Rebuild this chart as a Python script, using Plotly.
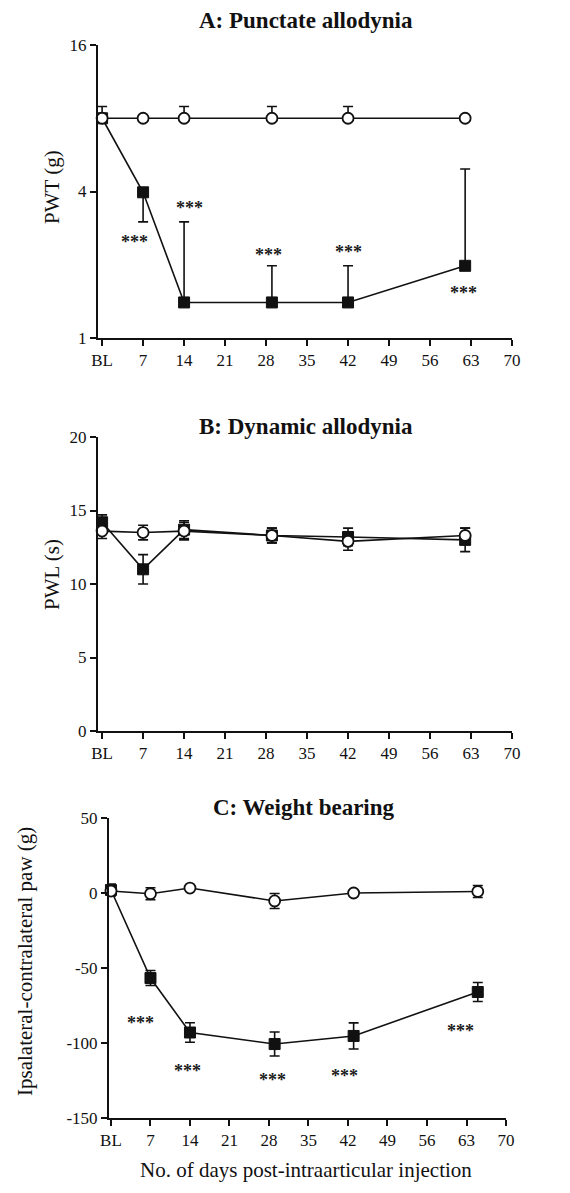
import math
import plotly.graph_objects as go

W, H = 570, 1193

# ---------------- data ----------------
x_tickvals = [0, 7, 14, 21, 28, 35, 42, 49, 56, 63, 70]
x_ticktext = ["BL", "7", "14", "21", "28", "35", "42", "49", "56", "63", "70"]

# Panel A: Punctate allodynia (PWT, g, log2 scale)
days_A = [0, 7, 14, 29, 42, 62]
ctrl_A = [8.0, 8.0, 8.0, 8.0, 8.0, 8.0]
ctrl_A_up = [0.94, 0.0, 0.94, 0.94, 0.94, 0.0]
oa_A = [8.0, 3.97, 1.4, 1.4, 1.4, 1.98]
oa_A_up = [0.0, 0.0, 1.6, 0.58, 0.58, 2.97]
oa_A_down = [0.0, 0.97, 0.0, 0.0, 0.0, 0.0]
stars_A_x = [5.5, 15.0, 28.5, 42.0, 61.8]
stars_A_y = [2.58, 3.55, 2.27, 2.34, 1.59]
yticks_A = [1, 4, 16]

# Panel B: Dynamic allodynia (PWL, s)
days_B = [0, 7, 14, 29, 42, 62]
ctrl_B = [13.6, 13.5, 13.6, 13.3, 12.9, 13.3]
ctrl_B_err = [0.5, 0.5, 0.6, 0.5, 0.6, 0.5]
oa_B = [14.2, 11.0, 13.7, 13.3, 13.2, 13.0]
oa_B_err = [0.5, 1.0, 0.6, 0.5, 0.6, 0.8]
yticks_B = [0, 5, 10, 15, 20]

# Panel C: Weight bearing (g)
days_C = [0, 7, 14, 29, 43, 65]
ctrl_C = [1.3, -0.5, 3.3, -5.3, 0.0, 1.0]
ctrl_C_err = [3, 4, 2, 5, 2, 4]
oa_C = [2.0, -56.7, -93.0, -100.7, -95.3, -66.0]
oa_C_err = [4, 5, 6.5, 8, 8.7, 6.3]
stars_C_x = [5.3, 13.5, 28.7, 41.3, 62.0]
stars_C_y = [-84, -116, -122, -119, -89]
yticks_C = [-150, -100, -50, 0, 50]
yticktext_C = ["-150", "-100", "-50", "0", "50"]

FONT = "Liberation Serif"
BLACK = "#111111"


def px(x):
    return x / W


def py(y):
    return 1 - y / H


fig = go.Figure()

sq = dict(symbol="square", size=11, color=BLACK, line=dict(color=BLACK, width=1))
circ = dict(symbol="circle", size=11, color="white", line=dict(color=BLACK, width=1.8))
line = dict(color=BLACK, width=1.6)


def err(arr, minus=None):
    d = dict(type="data", array=arr, color=BLACK, thickness=1.6, width=5)
    if minus is not None:
        d["arrayminus"] = minus
    else:
        d["symmetric"] = True
    return d


# Panel A
fig.add_trace(go.Scatter(x=days_A, y=oa_A, mode="lines+markers", marker=sq, line=line,
                         error_y=err(oa_A_up, oa_A_down), xaxis="x", yaxis="y", cliponaxis=False))
fig.add_trace(go.Scatter(x=days_A, y=ctrl_A, mode="lines+markers", marker=circ, line=line,
                         error_y=err(ctrl_A_up, [0] * len(ctrl_A)), xaxis="x", yaxis="y", cliponaxis=False))
# Panel B
fig.add_trace(go.Scatter(x=days_B, y=oa_B, mode="lines+markers", marker=sq, line=line,
                         error_y=err(oa_B_err), xaxis="x2", yaxis="y2", cliponaxis=False))
fig.add_trace(go.Scatter(x=days_B, y=ctrl_B, mode="lines+markers", marker=circ, line=line,
                         error_y=err(ctrl_B_err), xaxis="x2", yaxis="y2", cliponaxis=False))
# Panel C
fig.add_trace(go.Scatter(x=days_C, y=oa_C, mode="lines+markers", marker=sq, line=line,
                         error_y=err(oa_C_err), xaxis="x3", yaxis="y3", cliponaxis=False))
fig.add_trace(go.Scatter(x=days_C, y=ctrl_C, mode="lines+markers", marker=circ, line=line,
                         error_y=err(ctrl_C_err), xaxis="x3", yaxis="y3", cliponaxis=False))

tickfont = dict(family=FONT, size=17, color=BLACK)
common = dict(showline=True, linecolor=BLACK, linewidth=2, ticks="outside", ticklen=6,
              tickwidth=1.6, tickcolor=BLACK, showgrid=False, zeroline=False,
              tickfont=tickfont, fixedrange=True, automargin=False)

xA_dom = [px(98), px(512)]
xC_dom = [px(109), px(506)]

fig.update_layout(
    width=W, height=H, margin=dict(l=0, r=0, t=0, b=0, autoexpand=False),
    paper_bgcolor="white", plot_bgcolor="white", showlegend=False,
    xaxis=dict(domain=xA_dom, range=[-0.7, 70], anchor="y", tickvals=x_tickvals,
               ticktext=x_ticktext, **common),
    yaxis=dict(domain=[py(338), py(45)], type="log", range=[0, 1.20412], anchor="x",
               tickvals=yticks_A, ticktext=[str(v) for v in yticks_A], **common),
    xaxis2=dict(domain=xA_dom, range=[-0.7, 70], anchor="y2", tickvals=x_tickvals,
                ticktext=x_ticktext, **common),
    yaxis2=dict(domain=[py(731), py(437)], range=[0, 20], anchor="x2",
                tickvals=yticks_B, ticktext=[str(v) for v in yticks_B], **common),
    xaxis3=dict(domain=xC_dom, range=[-0.35, 70], anchor="y3", tickvals=x_tickvals,
                ticktext=x_ticktext, **common),
    yaxis3=dict(domain=[py(1118), py(818)], range=[-150, 50], anchor="x3",
                tickvals=yticks_C, ticktext=yticktext_C, **common),
)

# Significance stars
star_font = dict(family=FONT, size=18, color="#1a1a1a")
for xs, ys in zip(stars_A_x, stars_A_y):
    fig.add_annotation(x=xs, y=math.log10(ys), xref="x", yref="y", text="<b>***</b>",
                       showarrow=False, font=star_font, yshift=-4)
for xs, ys in zip(stars_C_x, stars_C_y):
    fig.add_annotation(x=xs, y=ys, xref="x3", yref="y3", text="<b>***</b>",
                       showarrow=False, font=star_font, yshift=-4)

# Titles
title_font = dict(family=FONT, size=23, color=BLACK)
for txt, cx, cy in [("<b>A: Punctate allodynia</b>", 306, 21),
                    ("<b>B: Dynamic allodynia</b>", 306, 427),
                    ("<b>C: Weight bearing</b>", 304, 807)]:
    fig.add_annotation(x=px(cx), y=py(cy), xref="paper", yref="paper", text=txt,
                       showarrow=False, font=title_font, xanchor="center", yanchor="middle")

lab_font = dict(family=FONT, size=21, color=BLACK)
for txt, cx, cy in [("PWT (g)", 52, 187), ("PWL (s)", 52, 575),
                    ("Ipsalateral-contralateral paw (g)", 25, 962)]:
    fig.add_annotation(x=px(cx), y=py(cy), xref="paper", yref="paper", text=txt,
                       showarrow=False, font=lab_font, textangle=-90,
                       xanchor="center", yanchor="middle")
fig.add_annotation(x=px(306), y=py(1170), xref="paper", yref="paper",
                   text="No. of days post-intraarticular injection", showarrow=False,
                   font=lab_font, xanchor="center", yanchor="middle")

fig.write_html("out.html", config={"displayModeBar": False},
               post_script="document.body.style.margin='0px';document.body.style.overflow='hidden';")
